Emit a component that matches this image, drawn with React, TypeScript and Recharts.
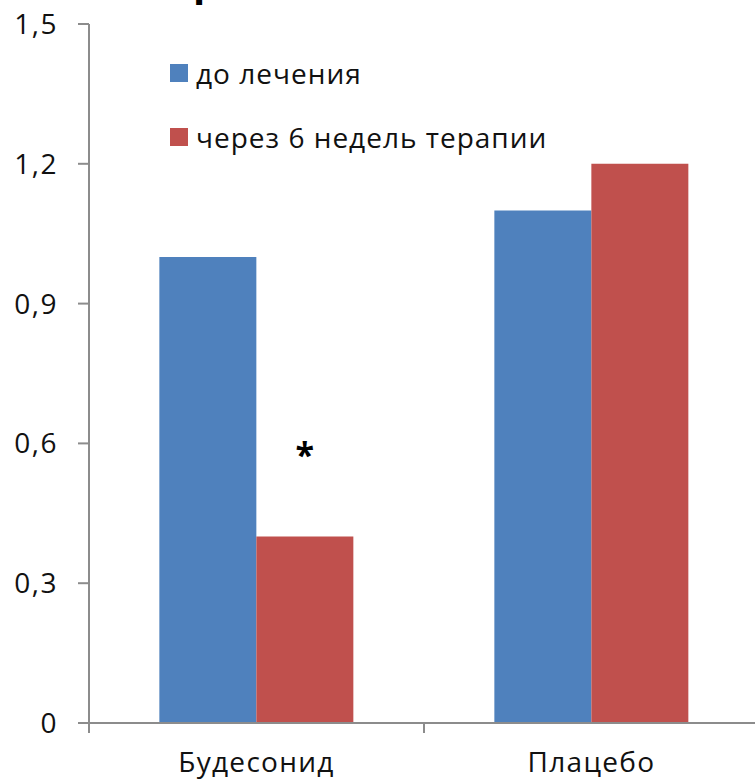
import React from "react";
import { Bar, BarChart, LabelList, XAxis, YAxis } from "recharts";

const groups = ["Будесонид", "Плацебо"];
const beforeTreatment = [1.0, 1.1];
const afterSixWeeks = [0.4, 1.2];
const significance = ["*", ""];
const yTicks = [0, 0.3, 0.6, 0.9, 1.2, 1.5];

const series = [
  { key: "before", name: "до лечения", color: "#4F81BD", values: beforeTreatment },
  { key: "after", name: "через 6 недель терапии", color: "#C0504D", values: afterSixWeeks },
];

const data = groups.map((group, i) => ({
  group,
  before: beforeTreatment[i],
  after: afterSixWeeks[i],
  mark: significance[i],
}));

const FONT = "'Open Sans', 'Noto Sans', sans-serif";
const AXIS = "#8C8C8C";
const TEXT = "#111";

const fmt = (v: number) => (v === 0 ? "0" : v.toFixed(1).replace(".", ","));

// category label plus the small tick marks on the group boundaries
function GroupTick(props: any) {
  const { x, y, payload, width, visibleTicksCount, index } = props;
  const band = width && visibleTicksCount ? width / visibleTicksCount : 0;
  const edges = band ? [x - band / 2] : [];
  if (band && index === visibleTicksCount - 1) edges.push(x + band / 2);
  return (
    <g>
      {edges.map((ex) => (
        <line key={ex} x1={ex} x2={ex} y1={y} y2={y + 10} stroke={AXIS} strokeWidth={2} />
      ))}
      <text
        x={x}
        y={y + 29}
        dy="0.71em"
        textAnchor="middle"
        fontFamily={FONT}
        fontSize={28}
        fill={TEXT}
        style={{ letterSpacing: 1.3 }}
      >
        {payload.value}
      </text>
    </g>
  );
}

function Asterisk(props: any) {
  const { x, y, width, value } = props;
  if (!value) return null;
  return (
    <text
      x={x + width / 2}
      y={y - 70}
      textAnchor="middle"
      fontFamily={FONT}
      fontWeight={700}
      fontSize={34}
      fill="#000"
    >
      {value}
    </text>
  );
}

export default function App() {
  return (
    <div
      style={{
        position: "absolute",
        left: 0,
        top: 0,
        width: 755,
        height: 780,
        overflow: "hidden",
        background: "#fff",
      }}
    >
      {/* tail of the heading that sits above the chart */}
      <svg width={755} height={30} style={{ position: "absolute", left: 0, top: 0 }}>
        <text x={193} y={-4} fontFamily={FONT} fontWeight={700} fontSize={40} fill="#000">
          р
        </text>
      </svg>

      <BarChart
        width={770}
        height={780}
        data={data}
        margin={{ top: 24, right: 11, bottom: 0, left: 0 }}
        barCategoryGap="21%"
        barGap={0}
      >
        <XAxis
          dataKey="group"
          height={57}
          interval={0}
          axisLine={{ stroke: AXIS, strokeWidth: 2 }}
          tickLine={false}
          tickSize={0}
          tickMargin={0}
          tick={<GroupTick />}
        />
        <YAxis
          width={89}
          domain={[0, 1.5]}
          ticks={yTicks}
          interval={0}
          tickFormatter={fmt}
          axisLine={{ stroke: AXIS, strokeWidth: 2 }}
          tickLine={{ stroke: AXIS, strokeWidth: 2 }}
          tickSize={11}
          tickMargin={20}
          tick={{ fill: TEXT, fontSize: 28, fontFamily: FONT, style: { letterSpacing: 1.5 } }}
        />
        {series.map((s) => (
          <Bar key={s.key} dataKey={s.key} name={s.name} fill={s.color} isAnimationActive={false}>
            {s.key === "after" && <LabelList dataKey="mark" content={Asterisk} />}
          </Bar>
        ))}
      </BarChart>

      <div
        style={{
          position: "absolute",
          left: 170,
          top: 55,
          fontFamily: FONT,
          fontSize: 28,
          letterSpacing: 1,
          color: TEXT,
        }}
      >
        {series.map((s) => (
          <div
            key={s.key}
            style={{ display: "flex", alignItems: "center", height: 36, marginBottom: 28, whiteSpace: "nowrap" }}
          >
            <span style={{ width: 18, height: 18, background: s.color, marginRight: 8, flex: "none" }} />
            <span>{s.name}</span>
          </div>
        ))}
      </div>
    </div>
  );
}
